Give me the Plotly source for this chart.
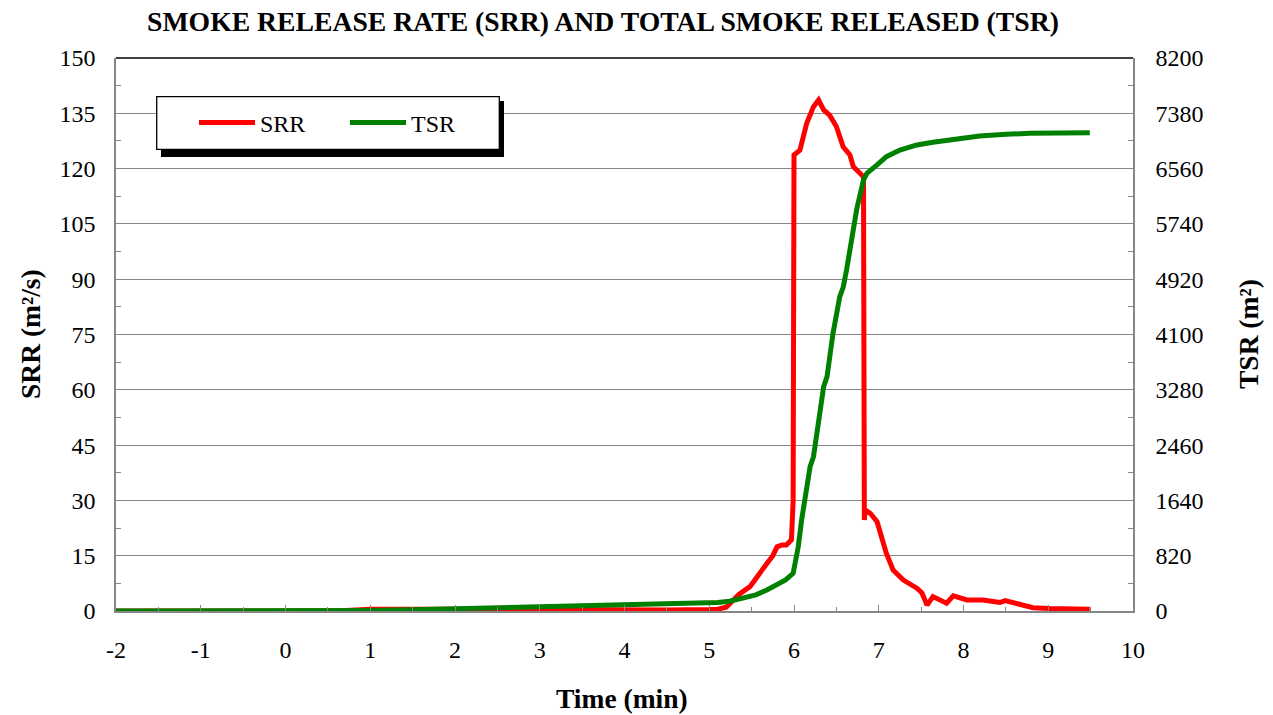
import plotly.graph_objects as go

# ---- data ----
time_srr = [-2, 0.6, 1.0, 1.5, 2.0, 2.5, 3.0, 3.5, 4.0, 4.5, 5.0, 5.1, 5.2, 5.28, 5.35,
            5.48, 5.58, 5.68, 5.75, 5.80, 5.86, 5.91, 5.97, 5.99, 6.0, 6.07, 6.15, 6.23,
            6.29, 6.35, 6.42, 6.50, 6.58, 6.66, 6.70, 6.78, 6.82, 6.83, 6.84, 6.90, 6.98,
            7.09, 7.17, 7.29, 7.45, 7.51, 7.57, 7.64, 7.72, 7.80, 7.88, 8.04, 8.23, 8.43,
            8.49, 8.67, 8.82, 9.02, 9.49]
srr = [0, 0, 0.5, 0.6, 0.6, 0.5, 0.4, 0.3, 0.3, 0.3, 0.4, 0.5, 1.0, 3.0, 4.5,
       6.6, 9.5, 12.9, 15.0, 17.4, 17.9, 17.9, 19.3, 30, 123.7, 125, 132.3, 136.8,
       138.6, 135.9, 134.5, 131.4, 125.9, 123.7, 120.5, 118.7, 117.8, 24.7, 27.4, 26.5, 24.2,
       15.6, 11.1, 8.4, 6.2, 4.9, 1.6, 3.9, 3.0, 2.1, 4.1, 3.0, 3.0, 2.3,
       2.8, 1.6, 0.9, 0.7, 0.5]

time_tsr = [-2, 0.7, 1.0, 1.5, 2.0, 2.5, 3.0, 3.5, 4.0, 4.5, 4.89, 5.1, 5.24, 5.4, 5.55,
            5.68, 5.8, 5.9, 5.99, 6.05, 6.09, 6.19, 6.23, 6.35, 6.39, 6.46, 6.54, 6.58,
            6.62, 6.74, 6.82, 6.86, 6.98, 7.09, 7.25, 7.45, 7.64, 7.84, 8.19, 8.5, 8.78, 9.49]
tsr = [0, 0, 8, 20, 33, 46, 60, 73, 86, 100, 114, 125, 145, 185, 240,
       311, 390, 460, 559, 950, 1350, 2140, 2288, 3327, 3475, 4118, 4661, 4800,
       5057, 5957, 6392, 6491, 6614, 6737, 6836, 6911, 6950, 6990, 7044, 7068, 7084, 7093]

x_ticks = list(range(-2, 11))
x_ticklabels = [str(v) for v in x_ticks]   # plain hyphen minus, as in the reference
y1_ticks = list(range(0, 151, 15))
y2_ticks = list(range(0, 8201, 820))

title_text = "SMOKE RELEASE RATE (SRR) AND TOTAL SMOKE RELEASED (TSR)"
FONT = "Times New Roman, Liberation Serif, serif"
AXIS_GREY = "#868686"

fig = go.Figure()
fig.add_trace(go.Scatter(x=time_srr, y=srr, mode="lines", name="SRR",
                         line=dict(color="#FF0000", width=5)))
fig.add_trace(go.Scatter(x=time_tsr, y=tsr, mode="lines", name="TSR", yaxis="y2",
                         line=dict(color="#008000", width=5)))

fig.update_layout(
    width=1273, height=715,
    margin=dict(l=116, r=140, t=58, b=104),
    paper_bgcolor="white", plot_bgcolor="white",
    font=dict(family=FONT, color="black", size=24),
    title=dict(text="<b>" + title_text + "</b>", x=603 / 1273, xanchor="center",
               y=1 - 21 / 715, yanchor="middle", font=dict(size=27.7, family=FONT)),
    xaxis=dict(range=[-2, 10], tickvals=x_ticks, ticktext=x_ticklabels,
               ticks="inside", ticklen=6,
               tickcolor=AXIS_GREY, tickwidth=1.3, showline=True, linecolor=AXIS_GREY,
               linewidth=1.5, showgrid=False, zeroline=False,
               minor=dict(dtick=0.5, tick0=-2, ticks="inside", ticklen=4,
                          tickcolor=AXIS_GREY, tickwidth=1.3),
               tickfont=dict(size=24), ticklabelstandoff=16),
    yaxis=dict(range=[0, 150], tickvals=y1_ticks, ticks="inside", ticklen=5,
               tickcolor=AXIS_GREY, showline=True, linecolor=AXIS_GREY, linewidth=1.5,
               showgrid=True, gridcolor=AXIS_GREY, gridwidth=1.2, zeroline=False,
               minor=dict(dtick=7.5, tick0=0, ticks="inside", ticklen=5,
                          tickcolor=AXIS_GREY, tickwidth=1.3),
               tickfont=dict(size=24), ticklabelstandoff=14),
    yaxis2=dict(range=[0, 8200], tickvals=y2_ticks, overlaying="y", side="right",
                ticks="inside", ticklen=5, tickcolor=AXIS_GREY, showline=True,
                linecolor=AXIS_GREY, linewidth=1.5, showgrid=False, zeroline=False,
                minor=dict(dtick=410, tick0=0, ticks="inside", ticklen=5,
                           tickcolor=AXIS_GREY, tickwidth=1.3),
                tickfont=dict(size=24), ticklabelstandoff=16),
    showlegend=True,
    legend=dict(orientation="h", x=(194 - 116) / 1017, y=(611 - 123) / 553,
                xanchor="left", yanchor="middle", bgcolor="rgba(0,0,0,0)",
                borderwidth=0, font=dict(size=24, family=FONT),
                entrywidth=80, entrywidthmode="pixels", itemwidth=56),
)

def px_x(p):
    return (p - 116) / 1017

def px_y(p):
    return (611 - p) / 553

shapes = [
    # top border of plot area
    dict(type="line", xref="paper", yref="paper", x0=0, x1=1, y0=1, y1=1,
         line=dict(color="black", width=1.5), layer="above"),
    # legend shadow
    dict(type="rect", xref="paper", yref="paper", x0=px_x(161), x1=px_x(504),
         y0=px_y(157), y1=px_y(101), fillcolor="black", line=dict(width=0), layer="above"),
    # legend box
    dict(type="rect", xref="paper", yref="paper", x0=px_x(156.7), x1=px_x(499.3),
         y0=px_y(149.3), y1=px_y(96.7), fillcolor="white",
         line=dict(color="black", width=1.3), layer="above"),
]
fig.update_layout(shapes=shapes)

fig.add_annotation(text="<b>Time (min)</b>", xref="paper", yref="paper",
                   x=px_x(622), y=px_y(698), xanchor="center", yanchor="middle",
                   showarrow=False, font=dict(size=27.5, family=FONT))
fig.add_annotation(text="<b>SRR (m²/s)</b>", xref="paper", yref="paper",
                   x=px_x(30), y=px_y(334), xanchor="center", yanchor="middle",
                   textangle=-90, showarrow=False, font=dict(size=27.5, family=FONT))
fig.add_annotation(text="<b>TSR (m²)</b>", xref="paper", yref="paper",
                   x=px_x(1248), y=px_y(334), xanchor="center", yanchor="middle",
                   textangle=-90, showarrow=False, font=dict(size=27.5, family=FONT))

fig.write_html("out.html", config={"displayModeBar": False},
               post_script="document.body.style.margin='0';")
